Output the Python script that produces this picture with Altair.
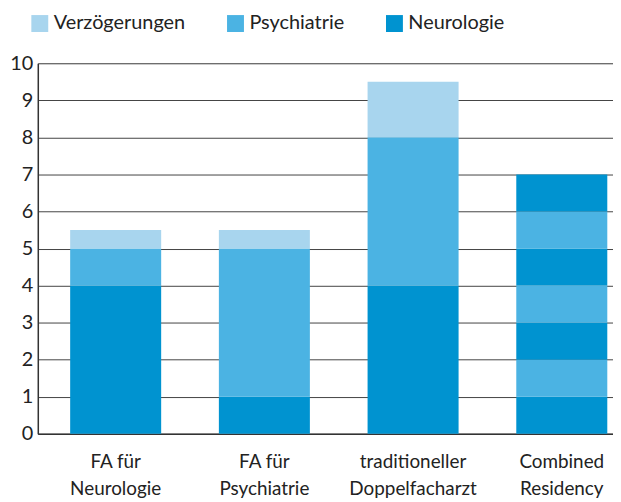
import altair as alt
import pandas as pd

categories = ["FA für|Neurologie", "FA für|Psychiatrie",
              "traditioneller|Doppelfacharzt", "Combined|Residency"]
segment_kind = [
    ["Neurologie", "Psychiatrie", "Verzögerungen"],
    ["Neurologie", "Psychiatrie", "Verzögerungen"],
    ["Neurologie", "Psychiatrie", "Verzögerungen"],
    ["Neurologie", "Psychiatrie", "Neurologie", "Psychiatrie",
     "Neurologie", "Psychiatrie", "Neurologie"],
]
segment_years = [
    [4, 1, 0.5],
    [1, 4, 0.5],
    [4, 4, 1.5],
    [1, 1, 1, 1, 1, 1, 1],
]
legend_order = ["Verzögerungen", "Psychiatrie", "Neurologie"]
legend_colors = ["#a8d5ee", "#4bb3e3", "#0093d0"]
y_ticks = list(range(0, 11))

rows = []
for cat, kinds, years in zip(categories, segment_kind, segment_years):
    for i, (k, v) in enumerate(zip(kinds, years)):
        rows.append({"cat": cat, "kind": k, "years": v, "seg": i})
df = pd.DataFrame(rows)

FONT = "Lato"

chart = alt.Chart(df).mark_bar().encode(
    x=alt.X("cat:N", sort=categories, title=None,
            scale=alt.Scale(paddingInner=0.388, paddingOuter=0.128, align=0.85),
            axis=alt.Axis(labelExpr="split(datum.label, '|')", labelAngle=0,
                          labelFontSize=19, labelColor="#222", labelFont=FONT,
                          labelLineHeight=27, labelPadding=19, ticks=False,
                          domainColor="#333", domainWidth=1.5, grid=False)),
    y=alt.Y("years:Q", stack="zero", title=None,
            scale=alt.Scale(domain=[0, 10], nice=False),
            axis=alt.Axis(values=y_ticks, labelFontSize=20, labelColor="#222",
                          labelFont=FONT, ticks=False, labelPadding=5,
                          grid=True, gridColor="#444", gridWidth=1,
                          domainColor="#333", domainWidth=1.5)),
    color=alt.Color("kind:N", title=None,
                    scale=alt.Scale(domain=legend_order, range=legend_colors),
                    legend=alt.Legend(orient="none", direction="horizontal",
                                      legendX=-8, legendY=-50,
                                      symbolType="square", symbolSize=290,
                                      symbolStrokeWidth=0, symbolOpacity=1,
                                      labelFontSize=20, labelFont=FONT,
                                      labelColor="#222", labelOffset=4,
                                      columnPadding=40, padding=0)),
    order=alt.Order("seg:Q"),
).properties(width=579, height=373, padding={"left": 1, "top": 4, "right": 0, "bottom": 0}
).configure_view(stroke=None).configure(background="white")

chart.save("out.html", embed_options={"renderer": "svg", "actions": False})
